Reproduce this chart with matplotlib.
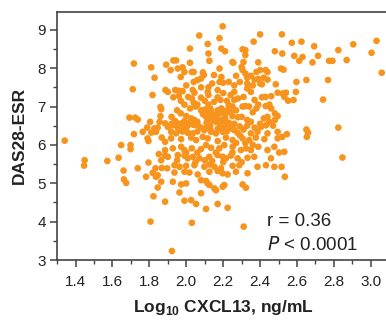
import matplotlib
matplotlib.use("Agg")
import matplotlib.pyplot as plt
from matplotlib.ticker import MultipleLocator

# Log10 CXCL13 (x) and DAS28-ESR (y)
left_x = [1.716, 1.81, 1.828, 1.891, 1.71, 1.817, 1.887, 1.86, 1.864, 1.86, 1.692, 1.723, 1.737,
          1.804, 1.885, 1.855, 1.788, 1.764, 1.716, 1.827, 1.845, 1.81, 1.836,
          1.341, 1.647, 1.698, 1.698, 1.449, 1.446, 1.572, 1.633, 1.66, 1.662, 1.674, 1.737, 1.795,
          1.782, 1.818, 1.836, 1.845, 1.864, 1.845, 1.822, 1.885, 1.806, 1.79, 1.795, 1.867,
          1.885, 1.851, 1.864, 1.885, 1.867, 1.885, 1.833, 1.896]
left_y = [8.12, 8.02, 7.75, 8.09, 7.45, 7.30, 7.43, 6.99, 6.93, 6.75, 6.71, 6.71, 6.66,
          6.60, 6.56, 6.60, 6.45, 6.34, 6.28, 6.43, 6.45, 6.32, 6.34,
          6.11, 5.995, 5.995, 5.89, 5.60, 5.46, 5.58, 5.665, 5.33, 5.10, 5.01, 5.39, 5.54,
          5.17, 5.27, 5.17, 5.21, 5.04, 4.89, 4.66, 4.52, 4.00, 6.17, 6.10, 6.19,
          6.08, 5.76, 5.60, 5.86, 5.40, 5.72, 5.39, 5.39]

right_x = [2.518, 2.572, 2.624, 2.693, 2.52, 2.585, 2.63, 2.612, 2.684, 2.714, 2.824, 2.905, 3.031,
           3.004, 2.774, 2.792, 2.869, 3.059, 2.513, 2.527, 2.597, 2.651, 2.768, 2.495, 2.522,
           2.54, 2.531, 2.552, 2.581, 2.594, 2.741, 2.495, 2.651, 2.66, 2.824, 2.495, 2.545,
           2.495, 2.52, 2.653, 2.503, 2.531, 2.516, 2.534, 2.846]
right_y = [8.88, 8.66, 8.69, 8.57, 8.38, 8.32, 8.29, 8.19, 8.15, 8.32, 8.47, 8.62, 8.71,
           8.40, 8.19, 8.19, 8.21, 7.88, 7.99, 7.96, 7.64, 7.69, 7.69, 7.36, 7.34,
           7.36, 7.25, 7.15, 7.17, 7.38, 7.18, 6.75, 6.40, 6.32, 6.45, 6.34, 6.28,
           6.17, 6.21, 6.21, 5.80, 5.82, 5.43, 5.17, 5.67]

upper_x = [2.197, 2.07, 2.18, 2.40, 2.365, 2.116, 2.02, 2.19, 2.21, 2.305, 2.32, 2.12, 2.48, 2.125,
           2.32, 2.25, 2.255, 2.31, 2.39, 1.93, 1.945, 2.02, 2.18, 2.30, 2.305, 2.32, 2.38, 2.40,
           2.43, 2.44, 1.915, 1.954, 1.98, 1.99, 2.03, 2.04, 2.09, 2.095, 1.97, 2.15, 2.19, 2.06,
           2.08, 2.04, 2.14, 2.18, 2.20, 2.23, 2.29, 2.33, 2.40, 2.41, 2.485, 2.33, 2.35, 1.90,
           1.94, 1.96, 1.98, 2.035, 2.044, 2.116, 2.17, 2.26, 2.31, 2.01, 2.03, 2.08, 2.17, 2.185,
           2.15, 1.93, 1.97, 2.26, 2.28, 2.37, 2.41, 2.43, 2.46, 2.04, 2.23, 2.25, 2.305, 2.32,
           2.34, 2.43, 2.08, 2.10, 2.116, 2.134, 2.17, 2.20, 2.22, 1.92, 1.97, 2.0, 2.026, 2.044,
           2.107, 2.125, 2.14, 2.11, 2.19, 2.21, 2.25, 2.28, 2.30, 2.33, 2.42, 2.44, 2.48,
           1.90, 1.927, 1.954, 1.976, 1.99, 2.008, 1.972, 2.062, 2.08, 2.098, 2.224, 2.242, 2.26,
           2.405, 2.432, 1.918, 1.945, 2.008, 2.035, 2.134, 2.161, 2.197, 2.278, 2.35, 2.386, 2.44,
           2.15, 2.16, 2.18, 2.13, 2.20, 2.23, 2.06, 2.09, 2.24, 2.27, 2.36, 2.38, 2.35, 2.40,
           2.45, 2.02, 1.95, 1.99, 2.05, 2.12, 2.39, 2.46, 2.47, 2.48, 2.45]
upper_y = [9.09, 8.85, 8.78, 8.88, 8.69, 8.63, 8.51, 8.51, 8.44, 8.49, 8.47, 8.38, 8.44, 8.19,
           8.34, 8.16, 8.14, 8.16, 8.15, 8.20, 8.20, 8.14, 7.99, 8.03, 7.95, 7.86, 7.90, 7.95,
           7.95, 7.90, 7.95, 7.99, 8.02, 7.90, 7.90, 7.90, 7.89, 7.82, 7.77, 7.82, 7.77, 7.69,
           7.73, 7.64, 7.60, 7.64, 7.62, 7.64, 7.64, 7.60, 7.60, 7.58, 7.58, 7.47, 7.38, 7.38,
           7.43, 7.41, 7.40, 7.43, 7.36, 7.38, 7.43, 7.38, 7.25, 7.25, 7.21, 7.23, 7.24, 7.17,
           7.12, 7.24, 7.15, 7.17, 7.21, 7.17, 7.24, 7.25, 7.27, 7.10, 7.04, 7.00, 7.00, 7.01,
           7.00, 7.01, 6.90, 6.92, 6.86, 6.90, 6.90, 6.86, 6.90, 6.73, 6.82, 6.75, 6.69, 6.65,
           6.73, 6.69, 6.65, 6.58, 6.65, 6.69, 6.75, 6.72, 6.73, 6.65, 6.69, 6.73, 6.82,
           6.47, 6.51, 6.45, 6.56, 6.47, 6.51, 6.37, 6.51, 6.45, 6.385, 6.51, 6.43, 6.385,
           6.47, 6.51, 6.34, 6.30, 6.315, 6.30, 6.34, 6.30, 6.34, 6.315, 6.30, 6.34, 6.30,
           6.78, 6.60, 6.55, 6.50, 6.62, 6.58, 6.60, 6.80, 6.85, 6.90, 6.85, 6.95, 6.60, 6.55,
           6.60, 6.95, 6.90, 6.62, 7.00, 7.05, 7.05, 6.95, 6.50, 6.65, 7.05]

lower_x = [1.918, 1.972, 2.026, 2.053, 2.089, 2.116, 2.17, 2.215, 2.251, 2.305, 2.341, 2.377, 2.423,
           1.927, 1.972, 1.99, 2.03, 2.08, 2.107, 2.134, 2.179, 2.206, 2.251, 2.296, 2.323, 2.35,
           2.44, 2.477, 1.90, 1.954, 1.99, 2.008, 2.035, 2.071, 2.125, 2.17, 2.197, 2.215, 2.242,
           2.278, 2.332, 2.368, 2.459, 1.936, 1.963, 1.999, 2.044, 2.098, 2.125, 2.152, 2.188,
           2.251, 2.287, 2.386, 2.432, 2.477, 1.936, 1.99, 2.017, 2.062, 2.125, 2.17, 2.197,
           2.224, 2.269, 2.332, 1.927, 1.972, 1.999, 2.08, 2.107, 2.116, 2.125, 2.197, 2.206,
           2.152, 2.305, 2.323, 1.963, 2.08, 2.161, 1.99, 2.026, 2.053, 2.107, 2.17, 2.224,
           2.03, 2.311, 1.922]
lower_y = [6.17, 6.15, 6.19, 6.125, 6.21, 6.17, 6.10, 6.19, 6.125, 6.17, 6.125, 6.19, 6.15,
           5.91, 5.95, 5.865, 5.91, 5.89, 5.995, 5.925, 5.91, 5.995, 5.95, 5.865, 5.91, 5.865,
           5.865, 5.95, 5.69, 5.735, 5.72, 5.65, 5.69, 5.65, 5.69, 5.735, 5.69, 5.65, 5.72,
           5.65, 5.665, 5.69, 5.65, 5.47, 5.43, 5.455, 5.47, 5.43, 5.49, 5.43, 5.39,
           5.455, 5.47, 5.43, 5.47, 5.43, 5.28, 5.30, 5.28, 5.23, 5.30, 5.32, 5.26,
           5.23, 5.30, 5.26, 5.04, 4.97, 4.995, 5.08, 5.06, 4.995, 4.955, 4.91, 4.955,
           4.865, 4.97, 4.885, 4.76, 4.74, 4.82, 4.545, 4.56, 4.46, 4.33, 4.46, 4.36,
           3.97, 3.87, 3.235]

core_x = [2.12, 2.14, 2.16, 2.18, 2.19, 2.21, 2.13, 2.11, 2.13, 2.17, 2.20, 2.22, 2.06, 2.04,
          1.96, 1.98, 1.94, 1.92, 2.02, 2.00, 2.26, 2.29, 2.31, 2.33, 2.37, 2.29, 2.32, 2.27,
          2.36, 2.39, 2.33, 2.35, 2.37, 2.39, 2.42, 2.44, 2.36, 2.26, 2.24, 2.20, 2.22, 2.12,
          2.10, 2.06, 1.99, 1.96, 2.00, 2.08, 2.12, 2.27, 2.05, 2.10, 2.14, 2.20, 1.95, 2.00,
          2.06, 2.16, 2.25, 2.30]
core_y = [6.72, 6.80, 6.70, 6.82, 6.95, 6.78, 6.95, 6.45, 6.40, 6.42, 6.45, 6.35, 6.35, 6.52,
          6.55, 6.35, 6.62, 6.55, 6.58, 6.45, 6.55, 6.48, 6.40, 6.50, 6.45, 6.25, 6.05, 6.05,
          6.00, 5.95, 7.75, 7.80, 7.70, 7.72, 7.75, 7.70, 7.55, 7.55, 7.30, 7.35, 7.15, 7.30,
          7.15, 7.05, 7.05, 7.28, 7.55, 7.50, 7.50, 7.80, 5.55, 5.60, 5.58, 5.55, 5.60, 5.80,
          5.80, 5.80, 5.80, 5.55]

x_vals = left_x + right_x + upper_x + lower_x + core_x
y_vals = left_y + right_y + upper_y + lower_y + core_y

x_ticks = [1.4, 1.6, 1.8, 2.0, 2.2, 2.4, 2.6, 2.8, 3.0]
y_ticks = [3, 4, 5, 6, 7, 8, 9]

fig = plt.figure(figsize=(3.86, 3.21), dpi=100)
ax = fig.add_axes([0.148, 0.19, 0.86, 0.7735])
ax.scatter(x_vals, y_vals, s=23, color="#F7941D", edgecolors="none", zorder=3)

ax.set_xlim(1.3, 3.099)
ax.set_ylim(3, 9.47)
ax.set_xticks(x_ticks)
ax.set_xticklabels([f"{v:.1f}" for v in x_ticks])
ax.set_yticks(y_ticks)
ax.xaxis.set_minor_locator(MultipleLocator(0.1))
ax.yaxis.set_minor_locator(MultipleLocator(0.5))

spine_col = "#444444"
for side in ["left", "bottom", "top", "right"]:
    ax.spines[side].set_color(spine_col)
    ax.spines[side].set_linewidth(1.2)
ax.tick_params(axis="both", which="major", direction="out", length=5, width=1.1,
               color=spine_col, labelsize=11, labelcolor="#222222", pad=3)
ax.tick_params(axis="x", which="major", pad=6)
ax.tick_params(axis="both", which="minor", direction="out", length=3, width=1.0,
               color=spine_col)
for lab in ax.get_xticklabels() + ax.get_yticklabels():
    lab.set_family("Liberation Sans")

ax.set_xlabel(r"Log$_{\mathregular{10}}$ CXCL13, ng/mL", fontsize=12.5, fontweight="bold",
              family="Liberation Sans", color="#222222", labelpad=6.5)
ax.set_ylabel("DAS28-ESR", fontsize=12.5, fontweight="bold", family="Liberation Sans",
              color="#222222", labelpad=8)

ax.text(0.633, 0.155, "r = 0.36", transform=ax.transAxes, fontsize=13.5,
        family="Liberation Sans", color="#222222", va="center", ha="left")
ax.text(0.633, 0.06, r"$\mathit{P}$ < 0.0001", transform=ax.transAxes, fontsize=13.5,
        family="Liberation Sans", color="#222222", va="center", ha="left")

fig.savefig("out.png", dpi=100)
